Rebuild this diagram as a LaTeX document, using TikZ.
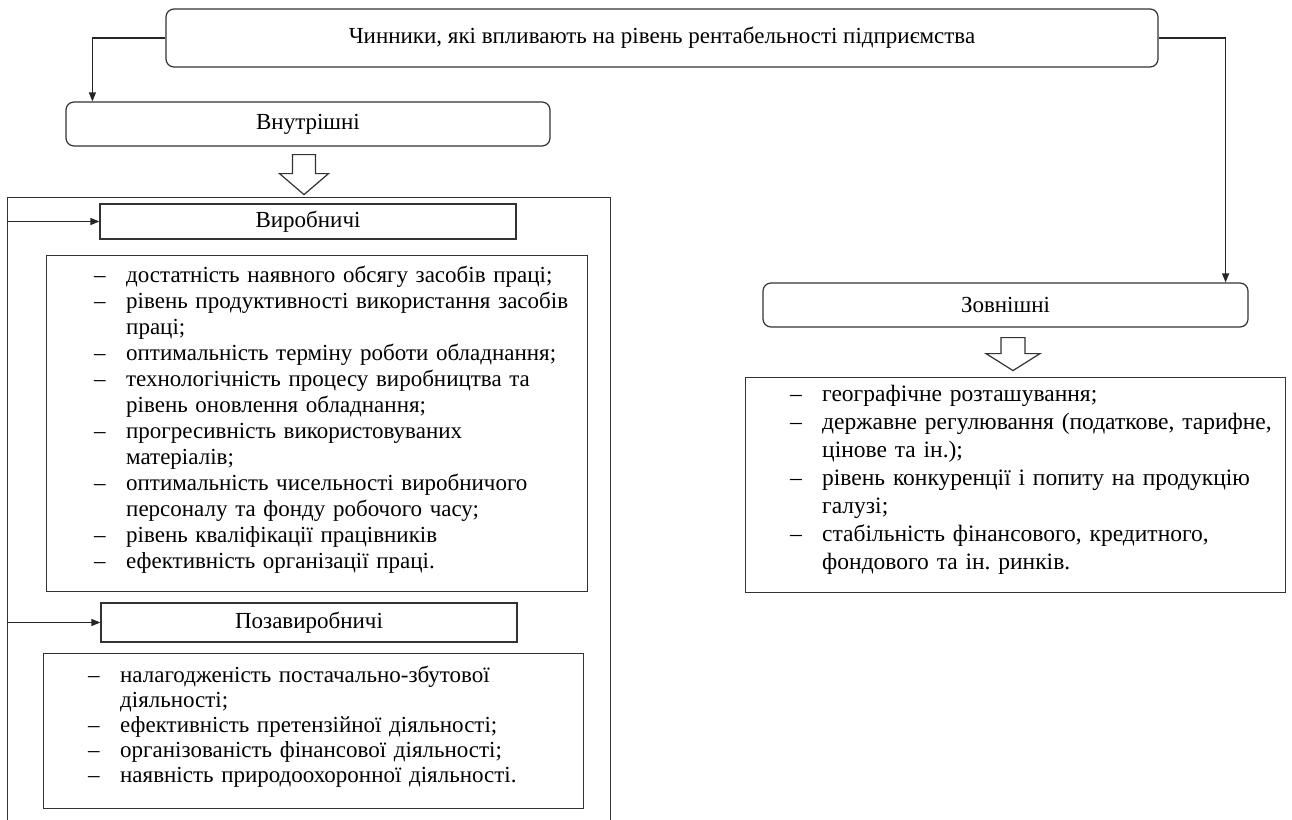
\documentclass[tikz,border=0pt]{standalone}
\usepackage{fontspec}
\setmainfont{Liberation Serif}
\usetikzlibrary{arrows.meta,calc}
\frenchspacing
\tikzset{
  frame/.style={draw=black!80, line width=1.2pt},
  rbox/.style={frame, rounded corners=8pt, inner sep=0pt, font=\fontsize{23}{26}\selectfont},
  sbox/.style={frame, inner sep=0pt, font=\fontsize{23}{26}\selectfont},
  conn/.style={draw=black!85, line width=1.2pt, -{Triangle[length=9pt,width=7pt]}},
  hollow/.style={draw=black!80, line width=1.2pt, fill=white, line join=miter},
  listtext/.style={anchor=north west, inner sep=0pt, text width=530pt, align=left,
    font=\fontsize{23}{26}\selectfont\frenchspacing},
  listwide/.style={listtext, font=\fontsize{23.5}{28}\selectfont\frenchspacing},
  listtight/.style={listtext, font=\fontsize{23}{25}\selectfont\frenchspacing},
}
\newcommand{\itm}[1]{\hangindent=32pt\hangafter=1\noindent\strut\makebox[32pt][l]{–}#1\par}
\newcommand{\harrow}[5]{% coordinate, half stem, stem length, half head, head length
  \draw[hollow] (#1) ++(-#2,0) -- ++(2*#2,0) -- ++(0,#3) -- ++(#4-#2,0)
    -- ++(-#4,#5) -- ++(-#4,-#5) -- ++(#4-#2,0) -- cycle;}
\begin{document}
\begin{tikzpicture}[x=1pt,y=-1pt]
\clip (0,0) rectangle (1292,819);
\fill[white] (0,0) rectangle (1292,819);

% top
\node[rbox, minimum width=992pt, minimum height=58pt] (top) at (662,38)
  {Чинники, які впливають на рівень рентабельності підприємства};

% left column
\node[rbox, minimum width=484pt, minimum height=44pt] (vn) at (308,124) {Внутрішні};
\node[sbox, minimum width=603pt, minimum height=660pt, anchor=north west] (outer) at (7,197) {};
\node[sbox, minimum width=416pt, minimum height=35pt] (vyr) at (308,221.5) {Виробничі};
\node[sbox, minimum width=541pt, minimum height=336pt, anchor=north west] (l1box) at (46,255) {};
\node[listtext] (l1) at (94,264.5) {%
\itm{достатність наявного обсягу засобів праці;}
\itm{рівень продуктивності використання засобів\newline праці;}
\itm{оптимальність терміну роботи обладнання;}
\itm{технологічність процесу виробництва та\newline рівень оновлення обладнання;}
\itm{прогресивність використовуваних\newline матеріалів;}
\itm{оптимальність чисельності виробничого\newline персоналу та фонду робочого часу;}
\itm{рівень кваліфікації працівників}
\itm{ефективність організації праці.}};
\node[sbox, minimum width=416pt, minimum height=39pt] (poza) at (309,622.5) {Позавиробничі};
\node[sbox, minimum width=540pt, minimum height=155pt, anchor=north west] (l2box) at (43,653) {};
\node[listtight] (l2) at (88,665) {%
\itm{налагодженість постачально-збутової\newline діяльності;}
\itm{ефективність претензійної діяльності;}
\itm{організованість фінансової діяльності;}
\itm{наявність природоохоронної діяльності.}};

% right column
\node[rbox, minimum width=485pt, minimum height=44pt] (zo) at (1005.5,305) {Зовнішні};
\node[sbox, minimum width=540pt, minimum height=215pt, anchor=north west] (l3box) at (745,377) {};
\node[listwide] (l3) at (790,381.4) {%
\itm{географічне розташування;}
\itm{державне регулювання (податкове, тарифне,\newline цінове та ін.);}
\itm{рівень конкуренції і попиту на продукцію\newline галузі;}
\itm{стабільність фінансового, кредитного,\newline фондового та ін. ринків.}};

% connectors
\draw[conn] (top.west) -| ($(vn.north west)+(27,0)$);
\draw[conn] (top.east) -| ($(zo.north east)+(-23,0)$);
\draw[conn] (outer.west |- vyr.west) -- (vyr.west);
\draw[conn] (outer.west |- poza.west) -- (poza.west);

% hollow arrows
\coordinate (ha1) at ($(vn.south)+(-4,8)$);
\harrow{ha1}{11.5}{19}{24.5}{21}
\coordinate (ha2) at ($(zo.south)+(7.5,10)$);
\harrow{ha2}{12}{16}{27}{17}
\end{tikzpicture}
\end{document}
